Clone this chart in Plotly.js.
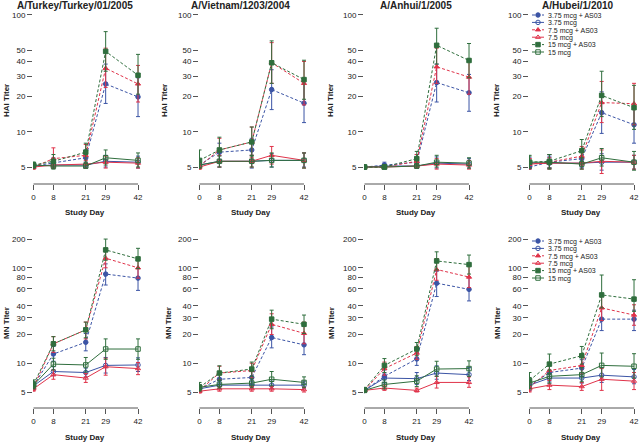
<!DOCTYPE html>
<html><head><meta charset="utf-8">
<script src="https://cdn.plot.ly/plotly-3.0.1.min.js"></script>
<style>html,body{margin:0;padding:0;background:#fff}#chart{width:640px;height:442px}</style>
</head><body><div id="chart"></div>
<script>
// ---------- data ----------
const DAYS = [0, 8, 21, 29, 42];
const X_TICKS = [0, 8, 21, 29, 42];
const SERIES = ['3.75 mcg + AS03', '3.75 mcg', '7.5 mcg + AS03', '7.5 mcg', '15 mcg + AS03', '15 mcg'];
const STRAINS = ['A/Turkey/Turkey/01/2005', 'A/Vietnam/1203/2004', 'A/Anhui/1/2005', 'A/Hubei/1/2010'];
const HAI_TICKS = [5, 10, 20, 30, 40, 50, 100];
const MN_TICKS = [5, 10, 20, 30, 40, 60, 80, 100, 200];
const THRESHOLD = 40;

// rows follow SERIES order; columns follow DAYS
const HAI_TURKEY = [[5.1,5.4,6.0,25.7,19.9],[5.1,5.2,5.2,5.6,5.5],[5.0,5.9,6.3,35,25.7],[5.0,5.2,5.3,5.5,5.4],[5.2,5.6,6.7,48.8,30.5],[5.2,5.1,5.1,6.0,5.7]];
const HAI_TURKEY_LO = [[4.9,4.9,5.0,17.5,13.5],[4.9,4.9,4.9,5.0,4.9],[4.8,4.9,5.2,24,18],[4.8,4.9,4.9,4.9,4.9],[4.9,5.0,5.5,33,21],[4.9,4.8,4.9,5.2,5.0]];
const HAI_TURKEY_HI = [[5.4,6.0,7.0,38,29],[5.4,5.5,5.5,6.3,6.2],[5.3,7.3,7.8,52,37],[5.3,5.6,5.7,6.2,6.0],[5.5,6.4,8.0,72,46],[5.5,5.5,5.4,7.0,6.6]];

const HAI_VIETNAM = [[5.2,6.7,7.0,23,17.6],[5.2,5.6,5.6,5.7,5.7],[5.1,7.0,8.2,39,26],[5.0,5.6,5.6,6.3,5.7],[5.7,7.0,8.2,39,28],[5.2,5.6,5.6,5.7,5.7]];
const HAI_VIETNAM_LO = [[4.9,5.5,5.5,15.5,12],[4.9,5.0,4.9,5.0,5.0],[4.8,5.6,6.0,26,17],[4.8,5.0,5.0,5.3,4.9],[4.9,5.5,6.2,26,19],[4.9,5.0,5.0,5.0,4.9]];
const HAI_VIETNAM_HI = [[5.6,8.0,8.8,34,26],[5.5,6.3,6.3,6.5,6.6],[5.5,8.8,11,58,40],[5.3,6.3,6.3,7.5,6.6],[7.0,9.0,11,60,41],[5.5,6.2,6.3,6.6,6.6]];

const HAI_ANHUI = [[5.0,5.2,5.5,26.4,21.6],[5.0,5.1,5.1,5.4,5.3],[5.0,5.0,5.6,36,29.4],[5.0,5.0,5.1,5.3,5.2],[5.0,5.0,5.9,55,40.8],[5.0,5.0,5.1,5.5,5.4]];
const HAI_ANHUI_LO = [[4.9,4.9,4.9,18,15],[4.9,4.9,4.9,4.9,4.9],[4.9,4.9,5.0,26,21],[4.9,4.9,4.9,4.8,4.8],[4.9,4.9,5.1,38,29],[4.9,4.9,4.9,5.0,4.9]];
const HAI_ANHUI_HI = [[5.1,5.5,6.4,38,31],[5.1,5.3,5.3,6.1,5.9],[5.1,5.2,6.4,52,42],[5.1,5.2,5.3,5.9,5.7],[5.1,5.2,6.8,77,57],[5.1,5.2,5.3,6.3,6.0]];

const HAI_HUBEI = [[5.0,5.5,5.9,14.6,11.5],[5.4,5.4,5.4,5.5,5.5],[5.3,5.5,6.2,17.8,17.4],[5.3,5.4,5.4,5.6,5.5],[5.5,5.6,6.9,20.5,16.1],[5.5,5.5,5.3,6.0,5.5]];
const HAI_HUBEI_LO = [[4.8,4.9,5.0,9.7,8.0],[4.9,4.9,4.9,4.7,4.8],[4.9,4.9,5.2,12,11.5],[4.8,4.8,4.8,4.4,4.8],[4.9,4.9,5.6,13.5,10.5],[4.9,4.8,4.8,5.1,4.7]];
const HAI_HUBEI_HI = [[5.3,6.2,7.0,22,16.5],[6.0,6.0,6.0,6.5,6.3],[5.9,6.4,7.5,27,26],[5.9,6.0,6.0,7.0,6.3],[6.2,6.4,8.6,33,25],[6.3,6.4,6.0,7.2,6.8]];

const MN_TURKEY = [[5.8,12.5,16.6,86,78],[5.8,8.2,8.0,9.5,9.6],[5.6,16.0,22.4,126,100],[5.4,7.6,7.0,9.2,8.8],[6.0,16.0,22.4,154,124],[5.9,9.8,9.6,14.1,14.1]];
const MN_TURKEY_LO = [[5.3,10.5,13.5,66,58],[5.4,7.4,7.2,7.9,8.2],[5.2,13,18,100,78],[5.1,6.8,6.3,7.5,7.6],[5.5,13.5,18.5,120,98],[5.4,8.5,8.1,11,11]];
const MN_TURKEY_HI = [[6.4,15,20.5,110,100],[6.3,9.2,8.9,11.5,11.4],[6.2,19,27,160,128],[5.8,8.5,7.8,11.3,10.2],[6.7,19,27,200,160],[6.5,11.3,11.5,18,18]];

const MN_VIETNAM = [[5.4,6.8,7.1,18.6,15.6],[5.4,5.9,5.9,5.9,5.9],[5.2,7.9,8.4,25.6,20.6],[5.1,5.4,5.4,5.4,5.3],[5.6,7.9,8.7,29,25.6],[5.6,6.0,6.2,6.8,6.3]];
const MN_VIETNAM_LO = [[5.0,6.0,6.0,14.5,12.3],[5.0,5.4,5.4,5.4,5.4],[4.9,6.7,7.0,20,16],[4.9,5.1,5.1,5.1,5.0],[5.1,6.7,7.3,23,20.5],[5.2,5.5,5.6,5.8,5.6]];
const MN_VIETNAM_HI = [[5.9,7.8,8.4,24,20],[5.9,6.5,6.5,6.5,6.5],[5.6,9.3,10,33,27],[5.3,5.7,5.7,5.7,5.6],[6.3,9.4,10.3,36,32],[6.0,6.6,6.9,8.2,7.2]];

const MN_ANHUI = [[5.2,7.3,11.1,69,59.5],[5.2,7.0,6.9,7.9,7.6],[5.2,8.8,12.8,96,80],[5.2,5.5,5.2,6.3,6.3],[5.3,9.5,14.1,118,108],[5.2,6.0,6.5,8.7,8.8]];
const MN_ANHUI_LO = [[5.0,6.3,9.5,50,45],[5.0,6.2,6.0,6.8,6.6],[5.0,7.5,11,74,62],[5.0,5.2,5.0,5.5,5.6],[5.0,8.0,12,95,86],[5.0,5.4,5.7,7.3,7.3]];
const MN_ANHUI_HI = [[5.4,8.5,13,92,80],[5.4,7.9,8.0,9.4,9.0],[5.4,10.3,15,125,105],[5.4,5.9,5.5,7.3,7.2],[5.5,11.2,16.5,147,136],[5.4,6.7,7.4,10.5,10.6]];

const MN_HUBEI = [[5.8,8.0,8.9,29,29],[5.9,7.0,7.0,7.5,7.2],[5.6,8.4,9.5,38,32],[5.4,5.9,5.7,6.8,6.5],[6.6,9.8,12.0,52,47],[6.2,7.3,7.6,9.5,9.3]];
const MN_HUBEI_LO = [[5.2,6.5,7.3,22,22],[5.4,6.2,6.2,6.3,6.1],[5.1,6.9,7.7,28,25],[5.0,5.3,5.2,5.2,5.3],[5.5,7.8,9.8,38,35],[5.4,6.2,6.4,7.2,7.0]];
const MN_HUBEI_HI = [[6.5,9.8,10.9,38,36],[6.5,7.9,7.9,9.0,8.6],[6.2,10.2,11.7,52,41],[5.8,6.6,6.3,8.8,8.0],[8.0,12.5,15,84,75],[7.1,8.5,9.0,12.8,12.6]];

// ---------- styling ----------
const COLORS = ['#3b54a5', '#3b54a5', '#e0334a', '#e0334a', '#2f6e3d', '#2f6e3d'];
const SYMBOLS = ['circle', 'circle-open', 'triangle-up', 'triangle-up-open', 'square', 'square-open'];
const DASHES = ['3px,2px', 'solid', '3px,2px', 'solid', '3px,2px', 'solid'];
const FONT = 'Liberation Sans, Arial, Helvetica, sans-serif';
const AXC = '#555';
const TXT = '#222';

const PANELS = [
  {label: 'HAI Titer', m: HAI_TURKEY, lo: HAI_TURKEY_LO, hi: HAI_TURKEY_HI},
  {label: 'HAI Titer', m: HAI_VIETNAM, lo: HAI_VIETNAM_LO, hi: HAI_VIETNAM_HI},
  {label: 'HAI Titer', m: HAI_ANHUI, lo: HAI_ANHUI_LO, hi: HAI_ANHUI_HI},
  {label: 'HAI Titer', m: HAI_HUBEI, lo: HAI_HUBEI_LO, hi: HAI_HUBEI_HI},
  {label: 'MN Titer', m: MN_TURKEY, lo: MN_TURKEY_LO, hi: MN_TURKEY_HI},
  {label: 'MN Titer', m: MN_VIETNAM, lo: MN_VIETNAM_LO, hi: MN_VIETNAM_HI},
  {label: 'MN Titer', m: MN_ANHUI, lo: MN_ANHUI_LO, hi: MN_ANHUI_HI},
  {label: 'MN Titer', m: MN_HUBEI, lo: MN_HUBEI_LO, hi: MN_HUBEI_HI}
];

// ---------- layout geometry (pixels) ----------
const W = 640, H = 442;
const COL_LEFT = [33, 199, 364, 529];
const COL_W = 110;
const ROWS = [
  {top: 12, bottom: 184, ymin: 3.58, ymax: 106, ticks: HAI_TICKS, titleY: 6, xlabY: 212, ylabY: 101, ylabX: [7, 165, 331, 497], legTop: 10},
  {top: 234, bottom: 408, ymin: 3.40, ymax: 226, ticks: MN_TICKS, titleY: null, xlabY: 437, ylabY: 323, ylabX: [6, 168, 331, 497], legTop: 236}
];
const TITLE_X = [75, 240, 416, 578];
const LEG_LEFT = 530;

const data = [];
const legendStyle = top => ({x: LEG_LEFT / W, y: 1 - top / H, xanchor: 'left', yanchor: 'top', bgcolor: 'rgba(0,0,0,0)', borderwidth: 0, font: {size: 7, family: FONT, color: TXT}, tracegroupgap: 0, itemsizing: 'trace'});
const layout = {
  width: W, height: H,
  margin: {l: 0, r: 0, t: 0, b: 0},
  paper_bgcolor: '#fff', plot_bgcolor: '#fff',
  font: {family: FONT, color: TXT, size: 8},
  shapes: [], annotations: [],
  legend: legendStyle(ROWS[0].legTop),
  legend2: legendStyle(ROWS[1].legTop)
};

PANELS.forEach((p, i) => {
  const row = i < 4 ? 0 : 1, col = i % 4;
  const R = ROWS[row];
  const n = i + 1;
  const xa = 'x' + (n > 1 ? n : ''), ya = 'y' + (n > 1 ? n : '');
  const xk = 'xaxis' + (n > 1 ? n : ''), yk = 'yaxis' + (n > 1 ? n : '');
  const L = COL_LEFT[col];
  layout[xk] = {
    domain: [L / W, (L + COL_W) / W], anchor: ya, range: [-0.2, 44],
    tickvals: X_TICKS, ticktext: X_TICKS.map(String), ticks: 'outside', ticklen: 5, tickwidth: 1, tickcolor: AXC,
    showline: false, showgrid: false, zeroline: false, tickfont: {size: 8, color: TXT, family: FONT}, fixedrange: true
  };
  layout[yk] = {
    domain: [1 - R.bottom / H, 1 - R.top / H], anchor: xa, type: 'log',
    range: [Math.log10(R.ymin), Math.log10(R.ymax)],
    tickvals: R.ticks, ticktext: R.ticks.map(String), ticks: 'outside', ticklen: 5, tickwidth: 1, tickcolor: AXC,
    showline: false, showgrid: false, zeroline: false, tickfont: {size: 8, color: TXT, family: FONT}, fixedrange: true
  };
  // detached R-style axis lines
  layout.shapes.push({type: 'line', xref: xa + ' domain', x0: 0, x1: 0, yref: ya, y0: Math.log10(R.ticks[0]), y1: Math.log10(R.ticks[R.ticks.length - 1]), line: {color: AXC, width: 1}});
  layout.shapes.push({type: 'line', xref: xa, x0: X_TICKS[0], x1: X_TICKS[X_TICKS.length - 1], yref: ya + ' domain', y0: 0, y1: 0, line: {color: AXC, width: 1}});
  layout.shapes.push({type: 'line', xref: xa + ' domain', x0: 0, x1: 1, yref: ya, y0: Math.log10(THRESHOLD), y1: Math.log10(THRESHOLD), line: {color: '#999', width: 1, dash: '1px,2px'}, layer: 'below'});

  if (R.titleY !== null) {
    layout.annotations.push({text: '<b>' + STRAINS[col] + '</b>', xref: 'paper', yref: 'paper', x: TITLE_X[col] / W, y: 1 - R.titleY / H, xanchor: 'center', yanchor: 'middle', showarrow: false, font: {size: 10, color: TXT, family: FONT}});
  }
  layout.annotations.push({text: '<b>Study Day</b>', xref: 'paper', yref: 'paper', x: (L + 52) / W, y: 1 - R.xlabY / H, xanchor: 'center', yanchor: 'middle', showarrow: false, font: {size: 8, color: TXT, family: FONT}});
  layout.annotations.push({text: '<b>' + p.label + '</b>', xref: 'paper', yref: 'paper', x: R.ylabX[col] / W, y: 1 - R.ylabY / H, xanchor: 'center', yanchor: 'middle', textangle: -90, showarrow: false, font: {size: 8, color: TXT, family: FONT}});

  p.m.forEach((vals, s) => {
    data.push({
      type: 'scatter', mode: 'lines+markers', x: DAYS, y: vals, xaxis: xa, yaxis: ya,
      name: SERIES[s], showlegend: col === 3, legend: row === 0 ? 'legend' : 'legend2',
      line: {color: COLORS[s], width: 1, dash: DASHES[s]},
      marker: {symbol: SYMBOLS[s], size: 4.5, color: COLORS[s], line: {color: COLORS[s], width: 1}},
      error_y: {type: 'data', symmetric: false,
        array: vals.map((v, k) => p.hi[s][k] - v),
        arrayminus: vals.map((v, k) => v - p.lo[s][k]),
        color: COLORS[s], thickness: 1, width: 2}
    });
  });
});

const gd = document.getElementById('chart');
function compactLegends() {
  // compact R-style legend entries: short line sample, marker in its middle, text right after
  const legs = gd.querySelectorAll('.infolayer > g');
  legs.forEach(leg => {
    const items = leg.querySelectorAll('g.traces');
    if (!items.length) return;
    const sb = leg.querySelector('.scrollbox');
    if (sb) sb.setAttribute('transform', 'translate(0,0)');
    const top = leg === legs[0] ? ROWS[0].legTop : null;
    items.forEach((t, i) => {
      t.setAttribute('transform', 'translate(0,' + (5 + i * 7.4) + ')');
      t.querySelectorAll('.legendlines path').forEach(pth => pth.setAttribute('d', 'M2,0h12'));
      t.querySelectorAll('.legendpoints path').forEach(pth => pth.setAttribute('transform', 'translate(8,0)'));
      t.querySelectorAll('text').forEach(tx => {
        tx.setAttribute('x', 18);
        tx.removeAttribute('dx');
        tx.querySelectorAll('tspan').forEach(ts => { if (ts.hasAttribute('x')) ts.setAttribute('x', 18); });
      });
    });
  });
}
Plotly.newPlot(gd, data, layout, {displayModeBar: false, staticPlot: true}).then(() => {
  compactLegends();
  requestAnimationFrame(compactLegends);
  setTimeout(compactLegends, 50);
  setTimeout(compactLegends, 300);
});
</script>
</body></html>
